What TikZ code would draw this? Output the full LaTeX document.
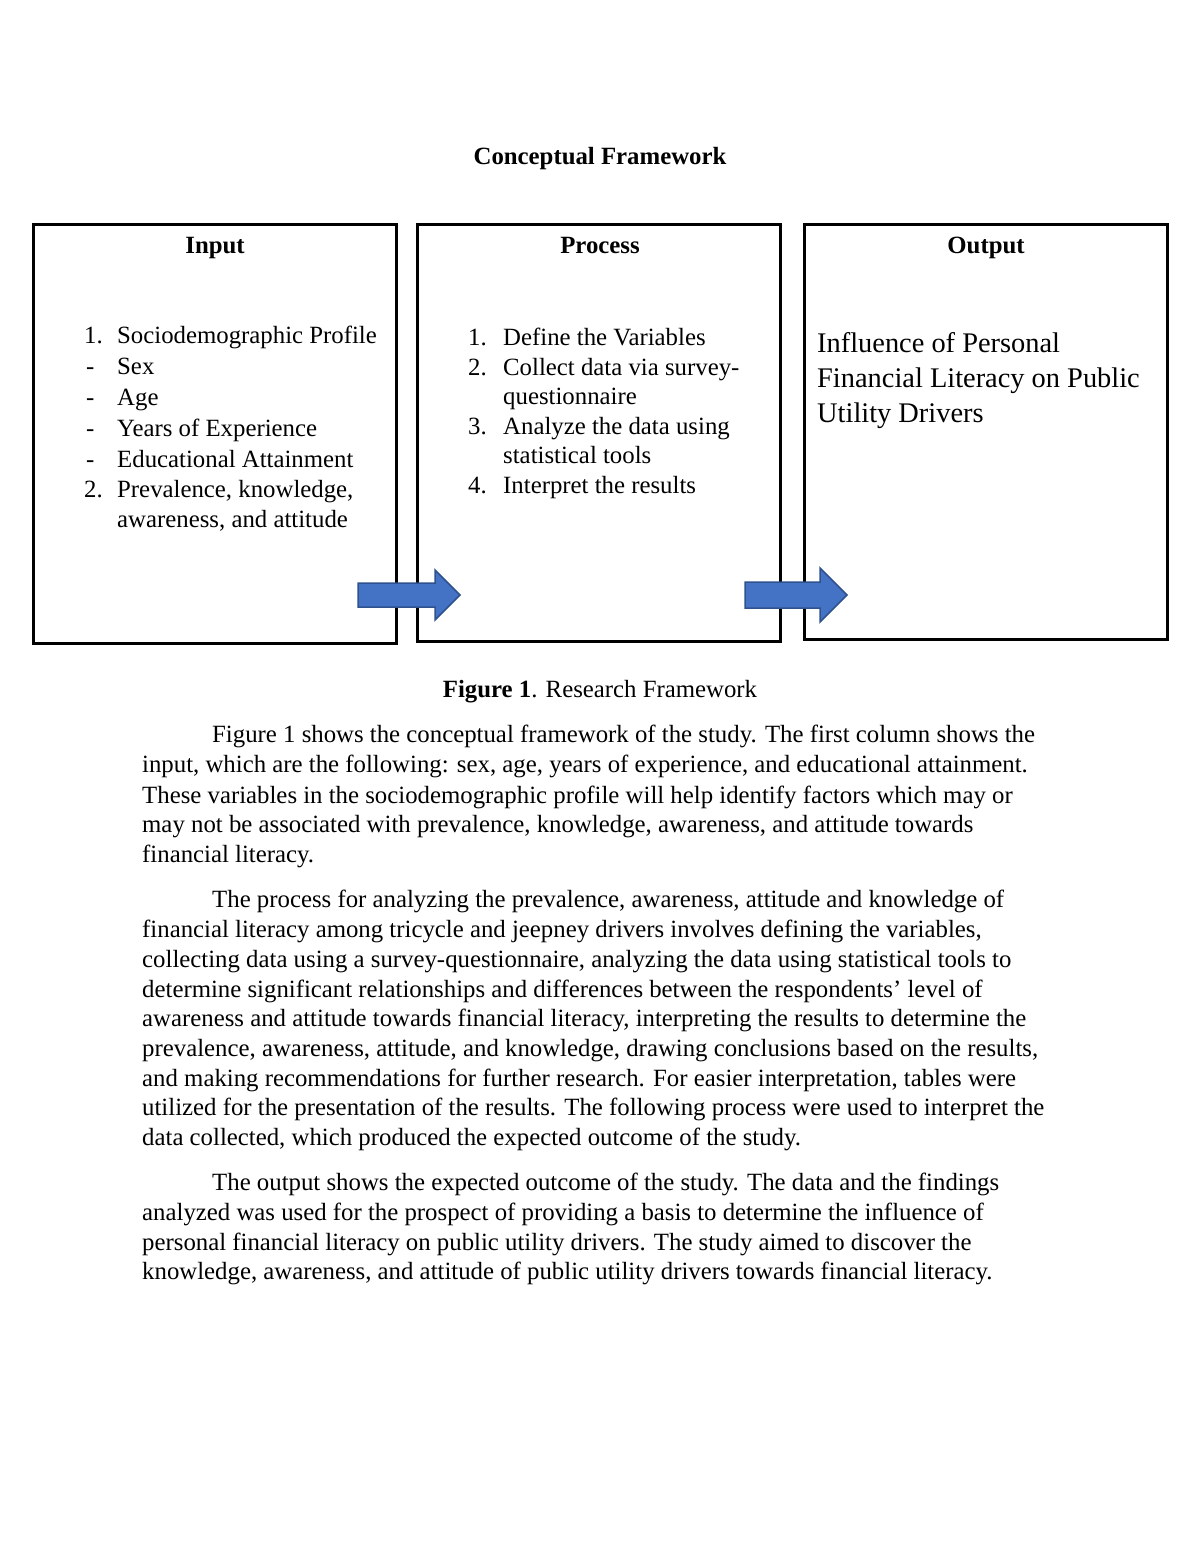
\documentclass[tikz,border=0pt]{standalone}
\usepackage{fontspec}
\setmainfont{Liberation Serif}
\definecolor{arrfill}{HTML}{4472C4}
\definecolor{arrline}{HTML}{2F528F}
\newcommand{\tline}[4]{\node[txt] (#1) at (#2,{#3+2}) {#4};}
\begin{document}
\begin{tikzpicture}[x=1pt,y=-1pt,
  txt/.style={anchor=base west, inner sep=0pt, font=\fontsize{24.8}{29}\selectfont},
  hdr/.style={anchor=base, inner sep=0pt, font=\fontsize{24.8}{29}\selectfont\bfseries},
  outtxt/.style={anchor=base west, inner sep=0pt, font=\fontsize{28.4}{35}\selectfont},
  frame/.style={draw=black, line width=3pt, fill=white, inner sep=0pt},
  blockarrow/.style={fill=arrfill, draw=arrline, line width=1.5pt, line join=miter}]
\useasboundingbox (0,0) rectangle (1200,1553);
\fill[white] (0,0) rectangle (1200,1553);

% title
\node[hdr] (title) at (600,164) {Conceptual Framework};

% boxes
\node[frame, minimum width=363pt, minimum height=419pt, anchor=north west] (inbox) at (32,223) {};
\node[frame, minimum width=363pt, minimum height=417pt, anchor=north west] (procbox) at (416,223) {};
\node[frame, minimum width=363pt, minimum height=415pt, anchor=north west] (outbox) at (803,223) {};

% headers
\node[hdr] (inhdr) at (215,253) {Input};
\node[hdr] (prochdr) at (600,253) {Process};
\node[hdr] (outhdr) at (986,253) {Output};

% input list
\tline{in1n}{84}{341}{1.}
\tline{in1}{117}{341}{Sociodemographic Profile}
\tline{in2n}{86}{372}{-}
\tline{in2}{117}{372}{Sex}
\tline{in3n}{86}{403}{-}
\tline{in3}{117}{403}{Age}
\tline{in4n}{86}{434}{-}
\tline{in4}{117}{434}{Years of Experience}
\tline{in5n}{86}{465}{-}
\tline{in5}{117}{465}{Educational Attainment}
\tline{in6n}{84}{495}{2.}
\tline{in6}{117}{495}{Prevalence, knowledge,}
\tline{in7}{117}{525}{awareness, and attitude}

% process list
\tline{pr1n}{468}{343}{1.}
\tline{pr1}{503}{343}{Define the Variables}
\tline{pr2n}{468}{373}{2.}
\tline{pr2}{503}{373}{Collect data via survey-}
\tline{pr3}{503}{402}{questionnaire}
\tline{pr4n}{468}{432}{3.}
\tline{pr4}{503}{432}{Analyze the data using}
\tline{pr5}{503}{461}{statistical tools}
\tline{pr6n}{468}{491}{4.}
\tline{pr6}{503}{491}{Interpret the results}

% output text
\node[outtxt] (out1) at (817,352) {Influence of Personal};
\node[outtxt] (out2) at (817,387) {Financial Literacy on Public};
\node[outtxt] (out3) at (817,422) {Utility Drivers};

% block arrows
\draw[blockarrow] (358,583) -- (435,583) -- (435,570) -- (460,595) -- (435,620) -- (435,607) -- (358,607) -- cycle;
\draw[blockarrow] (745,582) -- (820,582) -- (820,568) -- (847,595) -- (820,622) -- (820,608) -- (745,608) -- cycle;

% caption
\node[anchor=base, inner sep=0pt, font=\fontsize{24.8}{29}\selectfont] (caption) at (600,697) {\textbf{Figure 1}. Research Framework};

% paragraph 1
\tline{a1}{212}{740}{Figure 1 shows the conceptual framework of the study. The first column shows the}
\tline{a2}{142}{770}{input, which are the following: sex, age, years of experience, and educational attainment.}
\tline{a3}{142}{801}{These variables in the sociodemographic profile will help identify factors which may or}
\tline{a4}{142}{830}{may not be associated with prevalence, knowledge, awareness, and attitude towards}
\tline{a5}{142}{860}{financial literacy.}

% paragraph 2
\tline{b1}{212}{905}{The process for analyzing the prevalence, awareness, attitude and knowledge of}
\tline{b2}{142}{935}{financial literacy among tricycle and jeepney drivers involves defining the variables,}
\tline{b3}{142}{965}{collecting data using a survey-questionnaire, analyzing the data using statistical tools to}
\tline{b4}{142}{995}{determine significant relationships and differences between the respondents’ level of}
\tline{b5}{142}{1024}{awareness and attitude towards financial literacy, interpreting the results to determine the}
\tline{b6}{142}{1054}{prevalence, awareness, attitude, and knowledge, drawing conclusions based on the results,}
\tline{b7}{142}{1084}{and making recommendations for further research. For easier interpretation, tables were}
\tline{b8}{142}{1113}{utilized for the presentation of the results. The following process were used to interpret the}
\tline{b9}{142}{1143}{data collected, which produced the expected outcome of the study.}

% paragraph 3
\tline{c1}{212}{1188}{The output shows the expected outcome of the study. The data and the findings}
\tline{c2}{142}{1218}{analyzed was used for the prospect of providing a basis to determine the influence of}
\tline{c3}{142}{1248}{personal financial literacy on public utility drivers. The study aimed to discover the}
\tline{c4}{142}{1277}{knowledge, awareness, and attitude of public utility drivers towards financial literacy.}
\end{tikzpicture}
\end{document}
